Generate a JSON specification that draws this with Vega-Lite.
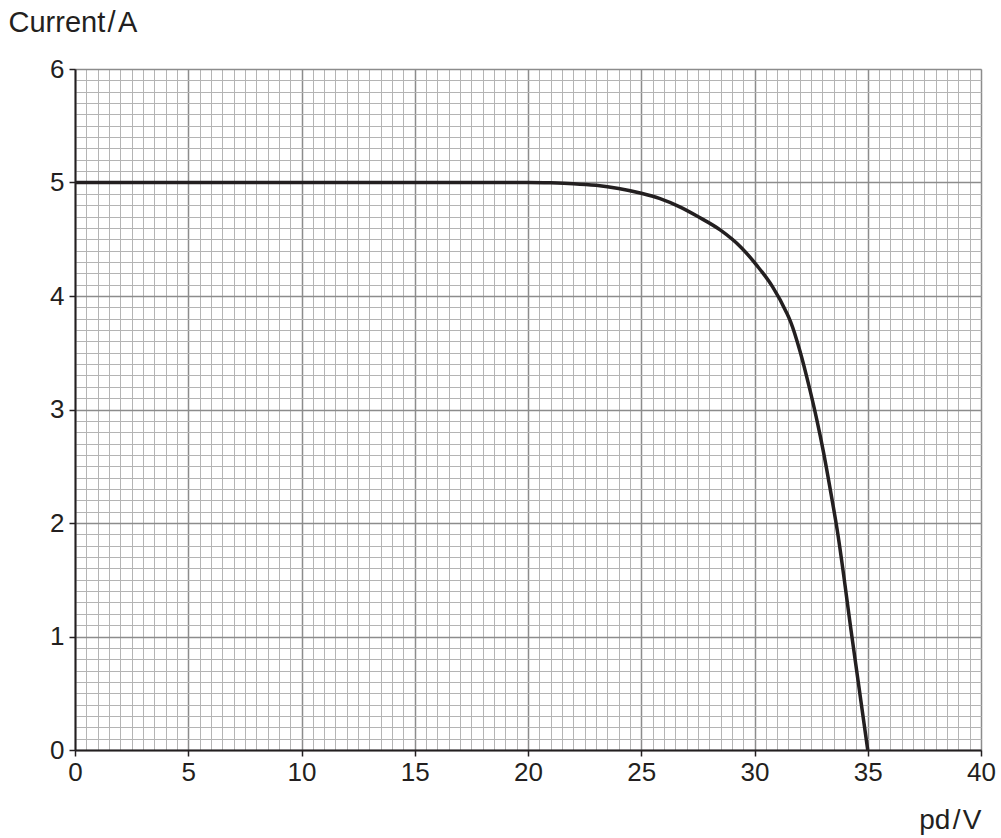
{
  "$schema": "https://vega.github.io/schema/vega-lite/v6.json",
  "width": 906,
  "height": 681,
  "autosize": "none",
  "padding": {"left": 75, "top": 69, "right": 20, "bottom": 88},
  "background": "white",
  "config": {
    "view": {"stroke": null},
    "font": "Liberation Sans"
  },
  "data": {
    "values": [
      {"pd": 0, "current": 5},
      {"pd": 5, "current": 5},
      {"pd": 10, "current": 5},
      {"pd": 15, "current": 5},
      {"pd": 20, "current": 5},
      {"pd": 21, "current": 4.997},
      {"pd": 22, "current": 4.99},
      {"pd": 23, "current": 4.975},
      {"pd": 24, "current": 4.947},
      {"pd": 25, "current": 4.905},
      {"pd": 25.8, "current": 4.86},
      {"pd": 26.7, "current": 4.785},
      {"pd": 27.5, "current": 4.7},
      {"pd": 28.5, "current": 4.58},
      {"pd": 29.4, "current": 4.43},
      {"pd": 30.1, "current": 4.27},
      {"pd": 30.8, "current": 4.08},
      {"pd": 31.4, "current": 3.86},
      {"pd": 31.6, "current": 3.77},
      {"pd": 32.0, "current": 3.52},
      {"pd": 32.45, "current": 3.17},
      {"pd": 32.75, "current": 2.91},
      {"pd": 33.05, "current": 2.62},
      {"pd": 33.35, "current": 2.29},
      {"pd": 33.65, "current": 1.94},
      {"pd": 34.3, "current": 1.0},
      {"pd": 35, "current": 0}
    ]
  },
  "resolve": {"axis": {"x": "independent", "y": "independent"}},
  "layer": [
    {
      "mark": {"type": "line", "strokeOpacity": 0},
      "encoding": {
        "x": {
          "field": "pd", "type": "quantitative",
          "scale": {"domain": [0, 40], "nice": false, "zero": false},
          "axis": {
            "orient": "top", "title": null, "labels": false, "ticks": false, "domain": false,
            "grid": true, "gridColor": "#b4b4b4", "gridWidth": 1,
            "values": [0,0.5,1,1.5,2,2.5,3,3.5,4,4.5,5,5.5,6,6.5,7,7.5,8,8.5,9,9.5,10,10.5,11,11.5,12,12.5,13,13.5,14,14.5,15,15.5,16,16.5,17,17.5,18,18.5,19,19.5,20,20.5,21,21.5,22,22.5,23,23.5,24,24.5,25,25.5,26,26.5,27,27.5,28,28.5,29,29.5,30,30.5,31,31.5,32,32.5,33,33.5,34,34.5,35,35.5,36,36.5,37,37.5,38,38.5,39,39.5,40]
          }
        },
        "y": {
          "field": "current", "type": "quantitative",
          "scale": {"domain": [0, 6], "nice": false, "zero": false},
          "axis": {
            "orient": "right", "title": null, "labels": false, "ticks": false, "domain": false,
            "grid": true, "gridColor": "#b4b4b4", "gridWidth": 1,
            "values": [0,0.1,0.2,0.3,0.4,0.5,0.6,0.7,0.8,0.9,1,1.1,1.2,1.3,1.4,1.5,1.6,1.7,1.8,1.9,2,2.1,2.2,2.3,2.4,2.5,2.6,2.7,2.8,2.9,3,3.1,3.2,3.3,3.4,3.5,3.6,3.7,3.8,3.9,4,4.1,4.2,4.3,4.4,4.5,4.6,4.7,4.8,4.9,5,5.1,5.2,5.3,5.4,5.5,5.6,5.7,5.8,5.9,6]
          }
        }
      }
    },
    {
      "mark": {"type": "line", "color": "#231f20", "strokeWidth": 3.5, "interpolate": "monotone", "clip": true},
      "encoding": {
        "x": {
          "field": "pd", "type": "quantitative",
          "scale": {"domain": [0, 40], "nice": false, "zero": false},
          "axis": {
            "orient": "bottom",
            "title": "pd\u200a/\u200aV",
            "titleFont": "Liberation Sans", "titleFontSize": 28, "titleFontWeight": "normal", "titleColor": "#231f20",
            "titleAlign": "right", "titleAnchor": null, "titleX": 906, "titleY": 78, "titleBaseline": "alphabetic",
            "values": [0,5,10,15,20,25,30,35,40],
            "grid": true, "gridColor": "#8c8c8c", "gridWidth": 1.5,
            "domain": true, "domainColor": "#231f20", "domainWidth": 2,
            "ticks": true, "tickColor": "#231f20", "tickSize": 6, "tickWidth": 1.5,
            "labelFont": "Liberation Sans", "labelFontSize": 26, "labelColor": "#231f20", "labelPadding": 3,
            "labelFlush": false, "labelOverlap": false
          }
        },
        "y": {
          "field": "current", "type": "quantitative",
          "scale": {"domain": [0, 6], "nice": false, "zero": false},
          "axis": {
            "orient": "left",
            "title": "Current\u200a/\u200aA",
            "titleFont": "Liberation Sans", "titleFontSize": 29, "titleFontWeight": "normal", "titleColor": "#231f20",
            "titleAngle": 0, "titleAlign": "left", "titleAnchor": null, "titleX": -67, "titleY": -38, "titleBaseline": "alphabetic",
            "values": [0,1,2,3,4,5,6],
            "grid": true, "gridColor": "#8c8c8c", "gridWidth": 1.5,
            "domain": true, "domainColor": "#231f20", "domainWidth": 2,
            "ticks": true, "tickColor": "#231f20", "tickSize": 6, "tickWidth": 1.5,
            "labelFont": "Liberation Sans", "labelFontSize": 26, "labelColor": "#231f20", "labelPadding": 5,
            "labelFlush": false, "labelOverlap": false
          }
        }
      }
    }
  ]
}
